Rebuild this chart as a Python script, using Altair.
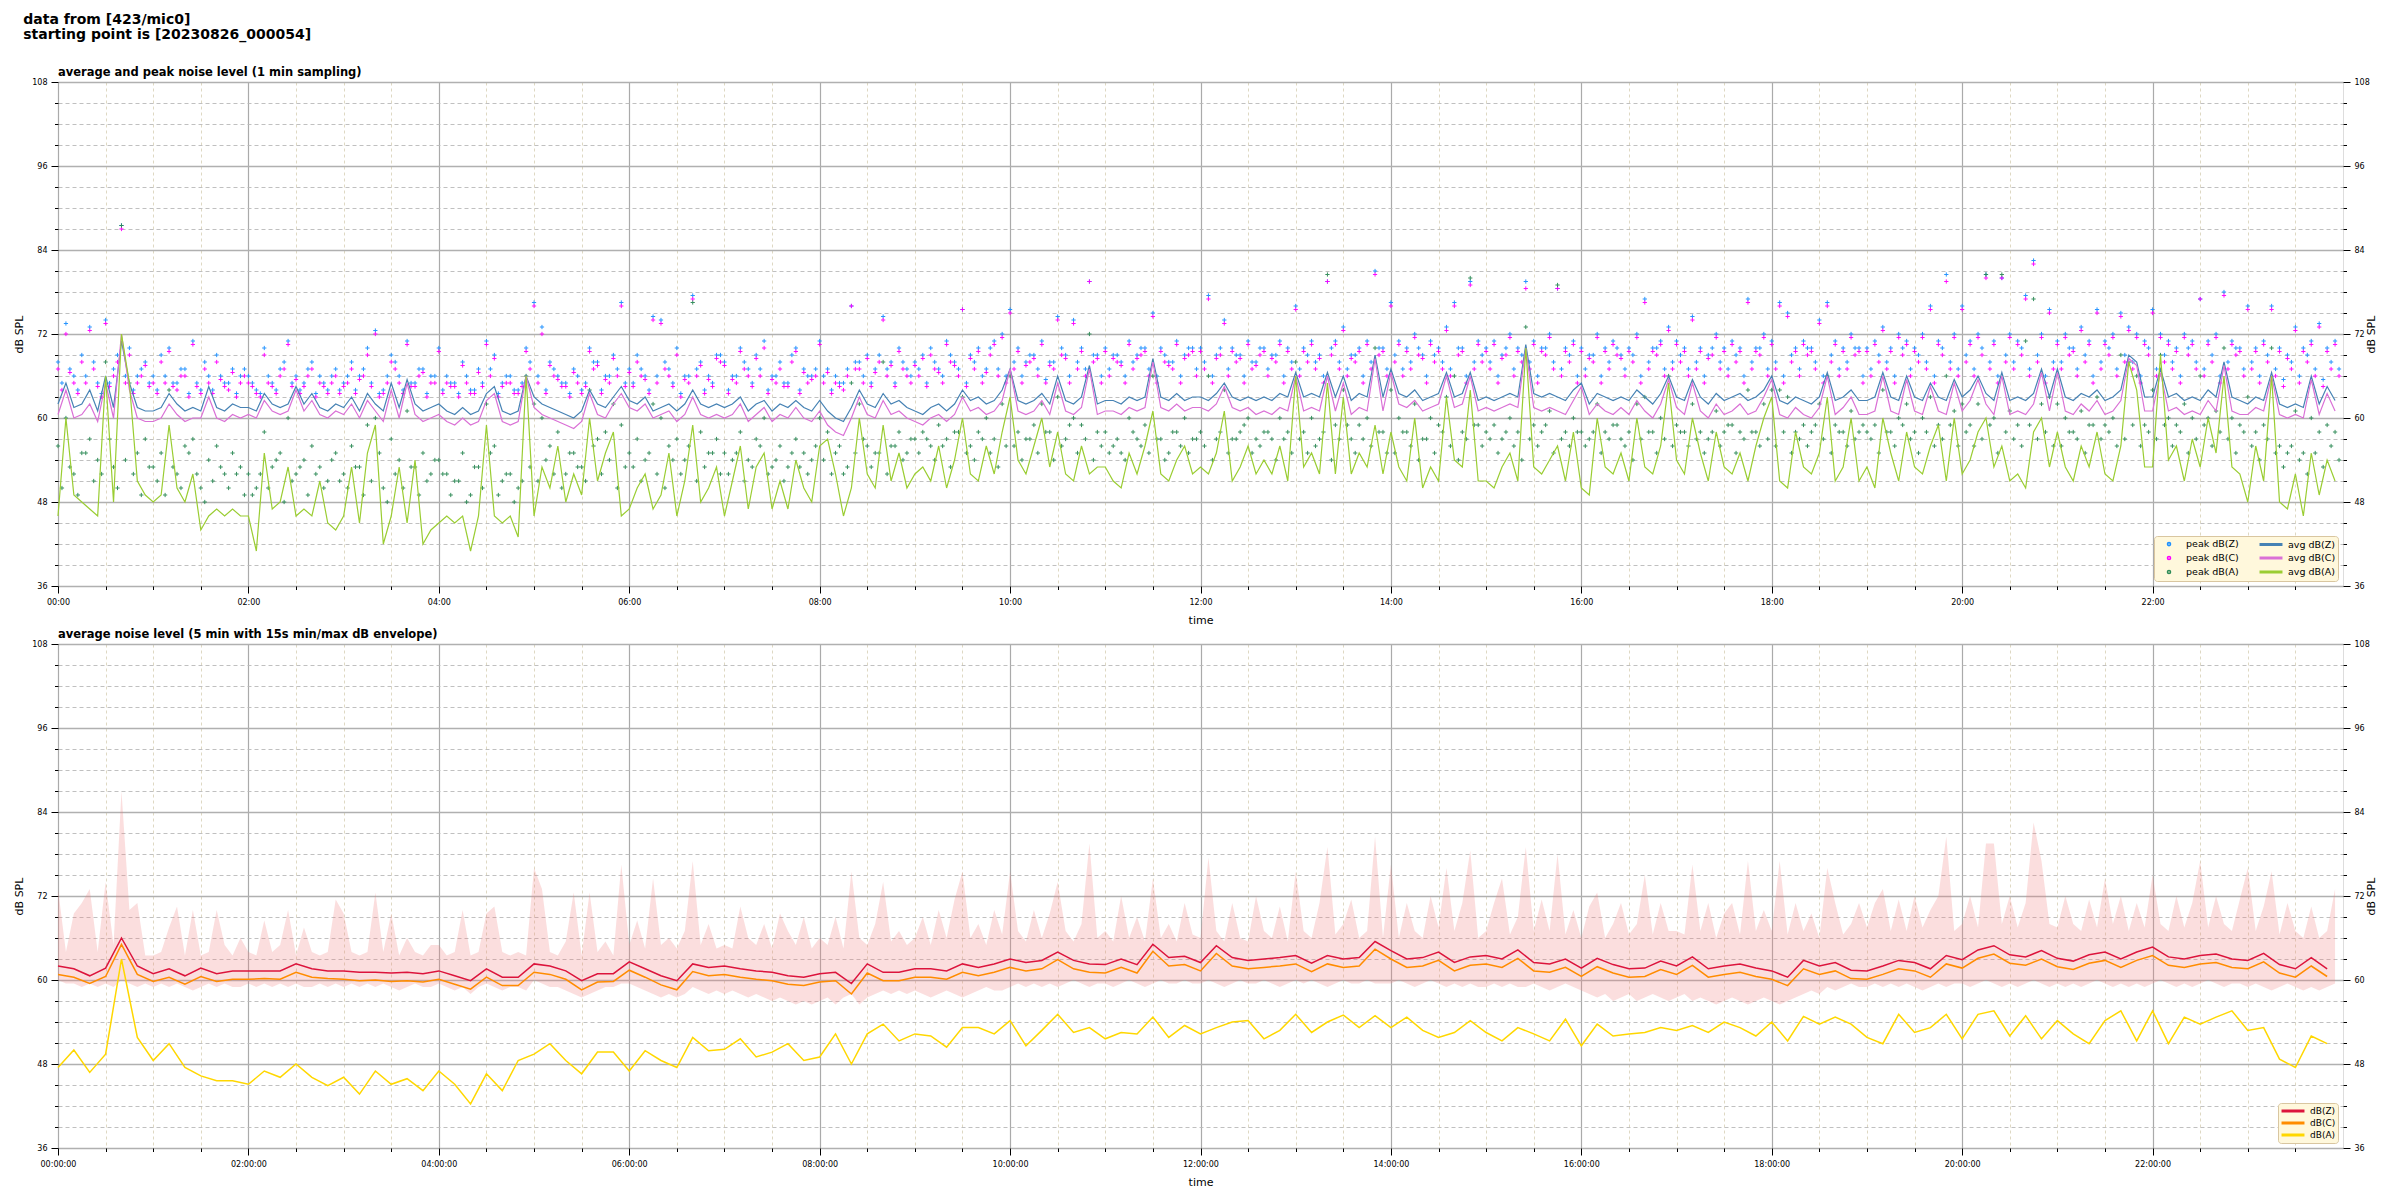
import altair as alt
import pandas as pd

FONT = "DejaVu Sans"

# ---------------- top panel: 5-minute samples (00:00 .. 23:55) ----------------
AVG_Z = [
    62, 65, 61.5, 62, 64, 61, 66, 61.5, 71, 65, 61.5, 61,
    61, 61.5, 63.5, 62, 61, 61.5, 61, 64.5, 61.5, 61, 62, 61.5,
    61.5, 61, 63.5, 62, 61.5, 62, 64.5, 62, 63.5, 61.5, 61, 62,
    61.5, 63, 61, 63.5, 62, 61, 65, 61.5, 65.5, 62, 61, 61.5,
    62, 61, 60.5, 61.5, 60.5, 61, 63.5, 64.5, 61, 60.5, 61, 66,
    63, 62, 61.5, 61, 60.5, 60, 61, 64, 62, 61.5, 63, 64.5,
    62.5, 62, 63, 61, 61.5, 62, 61, 62, 64, 62, 61.5, 62,
    61.5, 62, 63, 61, 62, 62.5, 61, 62, 61.5, 62.5, 61.5, 61,
    62.5, 61, 60, 59.5, 61.5, 64, 62, 61.5, 63.5, 62, 62.5, 61.5,
    61, 60.5, 61.5, 62, 61, 62, 64, 62.5, 63, 62, 62.5, 64,
    67, 62.5, 62, 62.5, 63.5, 62, 66, 62.5, 62, 63, 67.5, 62,
    62.5, 62.5, 62, 63, 62.5, 63, 68.5, 63, 62.5, 63.5, 62.5, 63,
    63, 62.5, 63.5, 65, 63, 62.5, 63, 62.5, 63, 62.5, 63.5, 63,
    66.5, 63, 63.5, 63, 66.5, 63, 66, 62.5, 63.5, 63, 69, 63,
    67, 63.5, 63, 64, 62.5, 63, 63.5, 66.5, 63, 63.5, 66.5, 62.5,
    63, 62.5, 63, 63.5, 63, 70.5, 63.5, 63, 63.5, 63, 62.5, 64,
    65, 62, 63.5, 63, 62.5, 63, 62.5, 64, 63, 62, 63.5, 66,
    63, 62.5, 65.5, 63, 62, 63.5, 62.5, 63, 63.5, 62.5, 63, 64,
    66, 62.5, 62, 63, 62.5, 62, 63, 66.5, 62.5, 63, 64, 62.5,
    62.5, 63, 66.5, 63, 62.5, 66, 63, 62.5, 65, 63, 62.5, 65.5,
    63, 64, 66, 63.5, 62.5, 66.5, 62.5, 63, 62.5, 63.5, 67, 63,
    67, 63, 62.5, 63.5, 63, 64, 62.5, 63, 64, 69, 68, 63,
    63, 67, 63, 63.5, 62.5, 63, 62.5, 64, 63, 68, 63, 62.5,
    62, 63, 62.5, 66.5, 62, 61.5, 62, 61.5, 66, 62, 64.5, 62.5,
]
AVG_C = [
    60.5, 64, 60, 60.5, 62, 59.5, 65, 60, 72, 64, 60, 59.5,
    59.5, 60, 62, 60.5, 59.5, 60, 60, 63, 60, 59.5, 60.5, 60,
    60.5, 60, 62.5, 61, 60.5, 61, 64, 61, 62.5, 60.5, 60, 61,
    60.5, 62, 60, 62.5, 61, 59.5, 64, 60, 65, 60.5, 59.5, 60,
    60.5, 59.5, 59, 60, 59, 59.5, 62.5, 63.5, 59.5, 59, 59.5, 66,
    61.5, 60.5, 60, 59.5, 59, 58.5, 59.5, 63.5, 60.5, 60, 62, 63.5,
    61.5, 61, 62, 60, 60.5, 61, 59.5, 60.5, 63, 60.5, 60, 60.5,
    60, 60.5, 62, 59.5, 60.5, 61.5, 59.5, 60.5, 60, 61.5, 60, 59.5,
    61, 59, 58, 57.5, 60, 63, 60.5, 60, 62.5, 60.5, 61, 60,
    59.5, 59, 60, 60.5, 59.5, 60.5, 63, 61, 61.5, 60.5, 61, 62.5,
    67, 61, 60.5, 61, 62.5, 60.5, 65, 61, 60.5, 61.5, 67, 60.5,
    61, 61, 60.5, 61.5, 61, 61.5, 68, 61.5, 61, 62, 61, 61.5,
    61.5, 61, 62, 64.5, 61.5, 61, 61.5, 60.5, 61, 60.5, 61.5, 61,
    66, 61, 61.5, 61, 66, 61, 65, 60.5, 61.5, 61, 68.5, 61,
    66.5, 62, 61.5, 62.5, 61, 61.5, 62, 66, 61.5, 62, 66, 61,
    61.5, 61, 61.5, 62, 61.5, 70, 61.5, 61, 61.5, 61, 60.5, 62.5,
    64.5, 60.5, 62, 61, 60.5, 61.5, 60.5, 62.5, 61, 60, 62, 65.5,
    61.5, 60.5, 65, 61, 60, 62, 60.5, 61, 62, 60.5, 61, 63,
    65.5, 60.5, 60, 61.5, 60.5, 60, 61.5, 66, 60.5, 61.5, 63, 60.5,
    60.5, 61, 66, 61, 60.5, 65.5, 61, 60.5, 64.5, 61, 60.5, 65,
    61, 62.5, 65.5, 62, 60.5, 66, 60.5, 61, 60.5, 62, 66.5, 61,
    66.5, 61, 60.5, 62, 61, 62.5, 60.5, 61, 62.5, 68.5, 67.5, 61,
    61, 66.5, 61, 61.5, 60.5, 61, 60.5, 62.5, 61, 67.5, 61, 60.5,
    60.5, 61.5, 61, 66, 60.5, 60, 60.5, 60, 65.5, 60.5, 63.5, 61,
]
AVG_A = [
    46, 60, 49, 48, 47, 46, 66, 48, 72, 65, 51, 49,
    48, 49, 59, 50, 48, 52, 44, 46, 47, 46, 47, 46,
    46, 41, 55, 47, 48, 53, 46, 47, 46, 51, 45, 44,
    46, 53, 45, 55, 59, 42, 46, 53, 45, 54, 42, 44,
    45, 46, 45, 46, 41, 46, 59, 46, 45, 46, 43, 66,
    46, 53, 50, 56, 48, 52, 49, 60, 51, 55, 58, 46,
    47, 50, 52, 47, 49, 55, 46, 51, 59, 48, 50, 53,
    46, 51, 56, 47, 53, 55, 47, 51, 47, 54, 50, 48,
    56, 57, 52, 46, 50, 60, 52, 50, 59, 51, 55, 50,
    52, 53, 51, 56, 50, 54, 60, 52, 51, 56, 52, 58,
    63, 54, 52, 56, 60, 53, 58, 52, 51, 56, 52, 53,
    53, 51, 50, 55, 52, 56, 61, 52, 51, 54, 56, 52,
    53, 52, 55, 61, 51, 53, 56, 52, 54, 52, 56, 51,
    66, 53, 55, 52, 65, 52, 63, 52, 55, 53, 59, 52,
    58, 53, 51, 60, 50, 53, 51, 63, 54, 53, 64, 51,
    51, 50, 53, 55, 51, 70, 53, 52, 54, 56, 51, 58,
    50, 49, 60, 53, 52, 55, 51, 60, 53, 52, 56, 65,
    54, 52, 60, 55, 51, 58, 53, 52, 55, 51, 56, 60,
    63, 51, 50, 58, 53, 52, 55, 63, 51, 53, 60, 51,
    53, 50, 60, 55, 51, 58, 53, 52, 56, 59, 51, 60,
    52, 54, 58, 60, 53, 56, 51, 52, 50, 58, 60, 53,
    58, 53, 51, 56, 53, 58, 52, 51, 56, 68, 64, 53,
    53, 69, 54, 56, 51, 57, 53, 60, 55, 66, 53, 52,
    48, 56, 51, 66, 48, 47, 52, 46, 55, 49, 54, 51,
]
# 1-minute peak levels read at each 5-minute mark (00:00 .. 23:55)
PEAK_Z = [
    68, 73.5, 66, 69, 73, 65, 74, 67, 87.5, 70, 66, 68,
    66, 69, 70, 65, 67, 71, 64, 66, 69, 65, 67, 66,
    66, 64, 70, 65, 67, 71, 66, 65, 68, 66, 64, 67,
    65, 68, 66, 70, 72.5, 64, 69, 66, 71, 65, 67, 66,
    70, 66, 65, 68, 64, 67, 71, 69, 65, 66, 64, 70,
    76.5, 73, 68, 66, 65, 67, 64, 70, 68, 66, 69, 76.5,
    67, 69, 66, 74.5, 74, 67, 70, 66, 77.5, 68, 66, 69,
    68, 66, 70, 67, 69, 71, 66, 68, 65, 70, 67, 66,
    71, 67, 66, 65, 76, 68, 69, 67, 74.5, 68, 70, 67,
    68, 69, 70, 67, 71, 68, 75.5, 69, 70, 67, 71, 72,
    75.5, 70, 68, 69, 71, 68, 74.5, 69, 74, 70, 79.5, 69,
    70, 69, 68, 71, 69, 70, 75, 70, 68, 71, 69, 70,
    70, 77.5, 69, 74, 70, 69, 71, 68, 70, 69, 71, 70,
    76, 70, 71, 69, 79.5, 71, 73, 69, 70, 71, 81, 70,
    76.5, 71, 70, 72, 69, 71, 70, 73, 76.5, 70, 79.5, 71,
    70, 71, 69, 72, 70, 79.5, 71, 70, 72, 78.5, 70, 71,
    70, 69, 72, 70, 71, 69, 70, 72, 77, 70, 71, 73,
    71, 70, 74.5, 70, 69, 72, 70, 71, 70, 77, 70, 72,
    71, 76.5, 75, 70, 71, 70, 74, 76.5, 71, 70, 72, 70,
    70, 71, 73, 70, 72, 71, 70, 72, 76, 71, 80.5, 72,
    76, 71, 72, 80.5, 71, 80, 72, 71, 77.5, 82.5, 72, 75.5,
    71, 72, 70, 73, 71, 75.5, 71, 72, 75, 73, 72, 71,
    75.5, 72, 71, 70, 72, 71, 77, 71, 72, 78, 71, 70,
    76, 70, 71, 76, 70, 69, 73, 70, 71, 73.5, 70, 71,
]
PEAK_C = [
    67, 72, 65, 68, 72.5, 64.5, 73.5, 66, 87, 69, 65, 67.5,
    65, 68, 69.5, 64, 66, 70.5, 63.5, 65, 68, 64.5, 66.5, 65,
    65, 63.5, 69, 64.5, 66, 70.5, 65.5, 64.5, 67, 65, 63.5, 66,
    64.5, 67, 65.5, 69, 72, 63.5, 68, 65, 70.5, 64.5, 66.5, 65,
    69.5, 65, 64.5, 67.5, 63.5, 66.5, 70.5, 68.5, 64.5, 65, 63.5, 69.5,
    76, 72, 67.5, 65.5, 64.5, 66.5, 63.5, 69.5, 67.5, 65.5, 68.5, 76,
    66.5, 68, 65.5, 74, 73.5, 66, 69, 65.5, 77, 67.5, 65.5, 68.5,
    67.5, 65.5, 69.5, 66, 68.5, 70, 65.5, 67, 64.5, 69.5, 66.5, 65.5,
    70.5, 66.5, 65, 64, 76, 67, 68.5, 66.5, 74, 67.5, 69.5, 66,
    67.5, 68.5, 69, 66.5, 70.5, 67.5, 75.5, 68.5, 69.5, 66.5, 70.5, 71.5,
    75, 69.5, 67.5, 68.5, 70.5, 67.5, 74, 68.5, 73.5, 69.5, 79.5, 68.5,
    69.5, 68.5, 67.5, 70.5, 68.5, 69.5, 74.5, 69.5, 67.5, 70.5, 68.5, 69.5,
    69.5, 77, 68.5, 73.5, 69.5, 68.5, 70.5, 67.5, 69.5, 68.5, 70.5, 69.5,
    75.5, 69.5, 70.5, 68.5, 79.5, 70.5, 72.5, 68.5, 69.5, 70.5, 80.5, 69.5,
    76, 70.5, 69.5, 71.5, 68.5, 70.5, 69.5, 72.5, 76, 69.5, 79, 70.5,
    69.5, 70.5, 68.5, 71.5, 69.5, 78.5, 70.5, 69.5, 71.5, 78.5, 69.5, 70.5,
    69.5, 68.5, 71.5, 69.5, 70.5, 68.5, 69.5, 71.5, 76.5, 69.5, 70.5, 72.5,
    70.5, 69.5, 74, 69.5, 68.5, 71.5, 69.5, 70.5, 69.5, 76.5, 69.5, 71.5,
    70.5, 76, 74.5, 69.5, 70.5, 69.5, 73.5, 76, 70.5, 69.5, 71.5, 69.5,
    69.5, 70.5, 72.5, 69.5, 71.5, 70.5, 69.5, 71.5, 75.5, 70.5, 79.5, 71.5,
    75.5, 70.5, 71.5, 80, 70.5, 80, 71.5, 70.5, 77, 82, 71.5, 75,
    70.5, 71.5, 69.5, 72.5, 70.5, 75, 70.5, 71.5, 74.5, 72.5, 71.5, 70.5,
    75, 71.5, 70.5, 69.5, 71.5, 70.5, 77, 70.5, 71.5, 77.5, 70.5, 69.5,
    75.5, 69.5, 70.5, 75.5, 69.5, 68.5, 72.5, 69.5, 70.5, 73, 69.5, 70.5,
]
PEAK_A = [
    56, 60, 52, 55, 57, 54, 68, 53, 87.5, 65, 55, 57,
    53, 55, 64, 52, 56, 57, 50, 54, 56, 52, 55, 53,
    52, 50, 58, 53, 55, 60, 52, 54, 56, 53, 51, 55,
    52, 56, 53, 59, 60, 50, 57, 54, 61, 53, 55, 52,
    54, 52, 51, 55, 49, 53, 62, 56, 51, 52, 50, 66,
    62, 60, 56, 58, 52, 55, 53, 64, 57, 58, 62, 59,
    55, 57, 54, 62, 60, 56, 57, 54, 76.5, 58, 55, 57,
    55, 54, 58, 54, 57, 60, 53, 56, 53, 57, 55, 54,
    60, 58, 55, 52, 65, 62, 56, 55, 68, 56, 58, 55,
    57, 58, 56, 59, 57, 58, 63, 56, 58, 60, 57, 62,
    66, 58, 57, 59, 62, 58, 63, 57, 60, 59, 72, 58,
    58, 56, 55, 60, 57, 59, 66, 57, 55, 58, 60, 57,
    58, 66, 57, 64, 57, 58, 60, 57, 58, 57, 60, 58,
    68, 58, 60, 57, 80.5, 59, 64, 57, 59, 60, 70, 58,
    64, 60, 58, 62, 57, 60, 59, 63, 66, 58, 80, 59,
    58, 59, 57, 60, 58, 73, 59, 58, 61, 79, 58, 60,
    58, 57, 62, 58, 59, 57, 58, 62, 63, 58, 60, 66,
    59, 58, 62, 58, 57, 61, 58, 59, 58, 64, 58, 62,
    64, 64, 63, 58, 59, 58, 62, 66, 59, 58, 61, 58,
    58, 59, 64, 58, 60, 62, 58, 60, 63, 59, 66, 61,
    62, 59, 62, 80.5, 60, 80.5, 61, 59, 71, 77, 62, 63,
    62, 60, 58, 61, 59, 63, 59, 60, 69, 68, 66, 59,
    64, 69, 60, 59, 62, 60, 66, 60, 61, 70, 60, 59,
    63, 58, 59, 70, 56, 55, 61, 55, 60, 58, 59, 58,
]
# peak levels read midway between the 5-minute marks (00:02:30 .. 23:57:30)
PEAK2_Z = [
    65, 67, 64, 66, 68, 63.5, 65, 69, 66, 64, 67, 65,
    64, 66, 65, 67, 63.5, 65, 68, 64, 66, 65, 63.5, 67,
    65, 63.5, 66, 64, 68, 65, 64, 67, 63.5, 65, 66, 64,
    66, 64, 67, 65, 63.5, 66, 68, 64, 65, 67, 63.5, 66,
    64, 65, 63.5, 66, 64, 65, 67, 63.5, 66, 64, 65, 68,
    66, 64, 67, 65, 63.5, 66, 65, 68, 64, 66, 67, 65,
    65, 67, 64, 66, 68, 65, 63.5, 66, 67, 64, 65, 69,
    64, 66, 68, 65, 67, 64, 66, 65, 69, 64, 66, 67,
    66, 64, 65, 67, 68, 66, 65, 69, 67, 65, 68, 66,
    67, 65, 68, 66, 69, 67, 65, 68, 66, 70, 67, 66,
    68, 66, 69, 67, 65.5, 68, 70, 66, 68, 67, 69, 66,
    67, 69, 66, 68, 70, 67, 66, 69, 68, 66, 70, 67,
    68, 66, 70, 67, 69, 66, 68, 70, 67, 69, 66, 68,
    67, 69, 68, 66, 70, 68, 67, 69, 66, 68, 70, 67,
    69, 67, 68, 70, 66, 69, 68, 67, 70, 66, 68, 69,
    68, 66, 70, 67, 69, 68, 66, 70, 68, 67, 69, 66,
    67, 69, 66, 68, 70, 67, 69, 66, 68, 70, 67, 68,
    69, 67, 68, 66, 70, 68, 67, 69, 66, 68, 70, 67,
    68, 66, 69, 67, 70, 68, 66, 69, 67, 68, 70, 66,
    67, 69, 68, 66, 70, 67, 69, 68, 66, 70, 68, 67,
    69, 67, 70, 68, 66, 69, 68, 70, 67, 69, 66, 68,
    68, 70, 67, 69, 66, 68, 70, 67, 69, 68, 66, 70,
    67, 69, 68, 66, 70, 68, 67, 69, 66, 68, 70, 67,
    68, 66, 69, 67, 65.5, 68, 66, 69, 67, 65.5, 68, 67,
]
PEAK2_C = [
    64, 66.5, 63.5, 65, 67, 63, 64.5, 68, 65, 63.5, 66, 64.5,
    63.5, 65, 64.5, 66, 63, 64.5, 67, 63.5, 65.5, 64, 63, 66,
    64.5, 63, 65, 63.5, 67, 64.5, 63.5, 66, 63, 64.5, 65, 63.5,
    65, 63.5, 66, 64.5, 63, 65, 67, 63.5, 64.5, 66, 63, 65,
    63.5, 64.5, 63, 65, 63.5, 64.5, 66, 63, 65, 63.5, 64.5, 67,
    65, 63.5, 66, 64.5, 63, 65, 64.5, 67, 63.5, 65, 66, 64.5,
    64.5, 66, 63.5, 65, 67, 64.5, 63, 65, 66, 63.5, 64.5, 68,
    63.5, 65, 67, 64.5, 66, 63.5, 65, 64.5, 68, 63.5, 65, 66,
    65, 63.5, 64.5, 66, 67, 65, 64.5, 68, 66, 64.5, 67, 65,
    66, 64.5, 67, 65, 68, 66, 64.5, 67, 65, 69, 66, 65,
    67, 65, 68, 66, 65, 67, 69, 65, 67, 66, 68, 65,
    66, 68, 65, 67, 69, 66, 65, 68, 67, 65, 69, 66,
    67, 65, 69, 66, 68, 65, 67, 69, 66, 68, 65, 67,
    66, 68, 67, 65, 69, 67, 66, 68, 65, 67, 69, 66,
    68, 66, 67, 69, 65, 68, 67, 66, 69, 65, 67, 68,
    67, 65, 69, 66, 68, 67, 65, 69, 67, 66, 68, 65,
    66, 68, 65, 67, 69, 66, 68, 65, 67, 69, 66, 67,
    68, 66, 67, 65, 69, 67, 66, 68, 65, 67, 69, 66,
    67, 65, 68, 66, 69, 67, 65, 68, 66, 67, 69, 65,
    66, 68, 67, 65, 69, 66, 68, 67, 65, 69, 67, 66,
    68, 66, 69, 67, 65, 68, 67, 69, 66, 68, 65, 67,
    67, 69, 66, 68, 65, 67, 69, 66, 68, 67, 65, 69,
    66, 68, 67, 65, 69, 67, 66, 68, 65, 67, 69, 66,
    67, 65, 68, 66, 64.5, 67, 65, 68, 66, 64.5, 67, 66,
]
PEAK2_A = [
    50, 53, 49, 55, 51, 52, 57, 50, 54, 52, 49, 53,
    51, 49, 53, 50, 55, 52, 48, 51, 53, 50, 52, 49,
    49, 52, 50, 54, 48, 51, 53, 49, 52, 50, 54, 51,
    50, 53, 49, 51, 55, 48, 52, 50, 53, 49, 51, 54,
    52, 49, 51, 48, 53, 50, 55, 49, 52, 48, 51, 53,
    51, 54, 52, 50, 55, 53, 51, 56, 52, 54, 50, 53,
    53, 51, 55, 52, 50, 54, 52, 56, 51, 53, 55, 52,
    52, 55, 51, 53, 56, 52, 54, 51, 55, 53, 52, 56,
    54, 52, 56, 53, 55, 57, 53, 55, 52, 56, 54, 57,
    55, 57, 54, 56, 53, 58, 55, 54, 57, 55, 53, 56,
    56, 54, 57, 55, 58, 54, 56, 59, 55, 57, 54, 56,
    55, 57, 54, 58, 56, 55, 57, 54, 58, 56, 55, 57,
    56, 54, 58, 55, 57, 59, 55, 56, 58, 54, 57, 55,
    57, 55, 56, 58, 54, 57, 59, 55, 57, 56, 58, 55,
    55, 58, 56, 54, 57, 55, 58, 56, 54, 57, 59, 56,
    57, 55, 58, 56, 54, 57, 56, 59, 55, 57, 56, 58,
    56, 58, 55, 57, 59, 56, 54, 57, 58, 55, 57, 56,
    58, 56, 57, 55, 58, 56, 59, 55, 57, 58, 56, 57,
    56, 58, 55, 57, 56, 59, 57, 55, 58, 56, 57, 59,
    57, 55, 58, 56, 59, 57, 55, 58, 56, 57, 59, 56,
    58, 56, 57, 59, 55, 58, 57, 56, 59, 57, 58, 56,
    56, 58, 57, 55, 59, 57, 58, 56, 57, 59, 56, 58,
    57, 59, 56, 58, 55, 57, 59, 56, 58, 57, 55, 58,
    56, 54, 57, 55, 53, 56, 54, 52, 55, 53, 56, 54,
]

# ---------------- bottom panel ----------------
# 5-minute averages, sampled every 10 minutes (00:00 .. 23:50)
LVL_Z = [
    62.0, 61.6, 60.6, 61.7, 66.0, 62.0,
    60.9, 61.6, 60.6, 61.7, 60.9, 61.3,
    61.3, 61.3, 61.3, 62.3, 61.6, 61.3,
    61.3, 61.1, 61.1, 61.0, 61.1, 60.9,
    61.3, 60.6, 59.9, 61.6, 60.4, 60.4,
    62.3, 62.0, 61.3, 59.9, 60.9, 60.9,
    62.6, 61.6, 60.6, 59.9, 62.3, 61.8,
    62.0, 61.6, 61.3, 61.1, 60.6, 60.4,
    60.9, 61.1, 59.5, 62.3, 61.1, 61.1,
    61.6, 61.6, 61.3, 62.3, 61.8, 62.3,
    63.0, 62.5, 62.8, 64.0, 62.8, 62.3,
    62.2, 63.0, 62.2, 65.1, 63.2, 63.4,
    62.5, 64.9, 63.2, 62.8, 63.0, 63.2,
    63.5, 62.4, 63.5, 63.0, 63.2, 65.5,
    64.2, 63.0, 63.2, 64.0, 62.5, 63.3,
    63.5, 63.0, 64.3, 62.5, 62.3, 63.0,
    61.7, 63.1, 62.2, 61.6, 61.7, 62.7,
    62.0, 63.3, 61.6, 62.0, 62.3, 61.7,
    61.3, 60.4, 62.8, 62.0, 62.5, 61.4,
    61.3, 62.0, 62.8, 62.5, 61.6, 63.5,
    62.9, 64.3, 64.9, 63.6, 63.3, 64.2,
    63.1, 62.7, 63.6, 64.0, 63.0, 64.0,
    64.7, 63.3, 63.0, 63.5, 63.7, 63.0,
    62.8, 63.8, 62.2, 61.6, 63.2, 61.6,
]
LVL_C = [
    60.8, 60.4, 59.5, 60.5, 65.1, 60.8,
    59.8, 60.4, 59.4, 60.5, 59.8, 60.1,
    60.1, 60.2, 60.1, 61.1, 60.4, 60.2,
    60.1, 59.9, 60.0, 59.8, 59.9, 59.7,
    60.1, 59.4, 58.7, 60.4, 59.2, 59.2,
    61.1, 60.8, 60.1, 58.6, 59.7, 59.8,
    61.4, 60.4, 59.3, 58.6, 61.2, 60.6,
    60.8, 60.4, 60.1, 59.9, 59.4, 59.2,
    59.7, 59.9, 58.0, 61.0, 59.9, 59.9,
    60.4, 60.4, 60.1, 61.1, 60.6, 61.1,
    61.8, 61.3, 61.6, 62.9, 61.6, 61.1,
    61.0, 61.8, 61.0, 64.1, 62.0, 62.2,
    61.3, 63.8, 62.0, 61.6, 61.8, 62.0,
    62.3, 61.2, 62.3, 61.8, 62.0, 64.4,
    63.0, 61.8, 62.0, 62.8, 61.3, 62.1,
    62.3, 61.8, 63.1, 61.3, 61.1, 61.8,
    60.5, 61.9, 61.0, 60.4, 60.5, 61.5,
    60.8, 62.1, 60.4, 60.8, 61.1, 60.5,
    60.1, 59.2, 61.6, 60.8, 61.3, 60.2,
    60.1, 60.8, 61.6, 61.3, 60.4, 62.3,
    61.7, 63.1, 63.7, 62.4, 62.1, 63.0,
    61.9, 61.5, 62.4, 62.8, 61.8, 62.8,
    63.5, 62.1, 61.8, 62.3, 62.5, 61.8,
    61.6, 62.6, 61.0, 60.4, 62.0, 60.5,
]
LVL_A = [
    47.5, 50.0, 46.8, 49.4, 63.0, 51.8,
    48.5, 50.9, 47.5, 46.3, 45.6, 45.6,
    45.1, 47.0, 46.1, 48.0, 46.1, 44.9,
    46.1, 43.7, 47.0, 45.1, 45.9, 44.2,
    47.0, 45.1, 42.3, 46.6, 44.2, 48.5,
    49.4, 50.9, 48.5, 46.6, 49.7, 49.7,
    47.0, 49.9, 48.5, 47.5, 51.8, 49.9,
    50.1, 51.6, 49.0, 49.7, 50.9, 48.5,
    49.0, 52.3, 48.0, 52.3, 53.7, 51.3,
    52.3, 52.0, 50.4, 53.2, 53.2, 52.3,
    54.2, 50.6, 52.8, 55.1, 52.5, 53.2,
    51.6, 52.5, 52.3, 54.7, 51.8, 53.5,
    52.3, 53.2, 54.0, 54.2, 51.6, 52.8,
    55.1, 52.5, 54.0, 55.0, 53.2, 54.9,
    53.2, 54.7, 52.8, 51.8, 52.5, 54.2,
    52.5, 51.3, 53.2, 52.3, 51.3, 54.4,
    50.6, 53.7, 52.0, 52.3, 52.5, 53.2,
    52.8, 53.5, 52.5, 54.0, 53.2, 52.0,
    54.0, 51.3, 54.8, 53.7, 54.7, 53.7,
    51.8, 50.9, 55.1, 52.5, 53.2, 55.1,
    51.6, 55.1, 55.6, 52.0, 54.9, 51.6,
    54.2, 52.3, 50.9, 54.2, 55.6, 51.3,
    55.6, 50.9, 54.7, 53.7, 54.7, 55.6,
    52.8, 53.2, 48.7, 47.5, 52.0, 50.9,
]
# 15 s min / max envelope, every 5 minutes (00:00 .. 23:55)
ENV_MAX = [
    73, 64, 69.5, 71, 73, 64, 74, 65, 87, 70, 71, 63.5,
    63.5, 64, 67.5, 70.5, 63.5, 70, 63.5, 64, 70, 65, 63.5, 66,
    64, 63.5, 68.5, 64, 65, 70, 63.5, 67.5, 64, 63.5, 64, 71.5,
    69.5, 64, 63.5, 64, 72.5, 64, 69.5, 63.5, 66, 64, 63.5, 65,
    65, 63.5, 64, 70, 63.5, 64, 69.5, 70.5, 64, 63.5, 64, 63.5,
    76, 73, 64, 63.5, 65.5, 72.5, 63.5, 72.5, 64, 65.5, 63.5, 76.5,
    65, 68.5, 64.5, 74.5, 65, 66, 64.5, 67, 77, 65, 68, 64.5,
    65, 64.5, 70.5, 66, 65, 68, 64.5, 69.5, 67, 65, 69, 64.5,
    66, 65, 69, 64.5, 75.5, 66, 65, 68, 74, 65.5, 67, 65,
    66, 69, 65, 70, 66, 71.5, 75.5, 66, 68, 65, 70, 66.5,
    75.5, 67, 65.5, 70, 66, 69.5, 74, 67, 65.5, 68, 79.5, 66,
    67, 65.5, 72, 66, 69, 65.5, 74.5, 66, 68, 65.5, 71, 66.5,
    66, 77.5, 67, 65.5, 71, 66, 65.5, 72, 67, 66, 70.5, 65.5,
    75.5, 67, 66, 71, 79, 66.5, 68, 71.5, 66, 67, 80.5, 66,
    76.5, 66, 71, 67, 66, 72, 67.5, 76, 67, 71, 78.5, 66,
    67, 71, 74.5, 66.5, 69, 79, 67, 71.5, 67, 78, 66.5, 70,
    66, 70.5, 72.5, 66, 68, 71, 66.5, 68, 75, 66.5, 71, 67,
    67, 66.5, 76.5, 67, 71, 66, 69.5, 71, 66.5, 77, 67, 70,
    67, 77, 66.5, 71, 67, 69.5, 66, 76, 71, 66.5, 68, 71,
    67.5, 71, 73, 67, 71.5, 67, 72, 67.5, 70, 72, 80.5, 67,
    68, 72, 67.5, 79.5, 79.5, 68, 72, 67.5, 71, 82.5, 77, 68,
    67.5, 72, 68, 67, 71.5, 67.5, 74.5, 68, 72, 67, 71, 67.5,
    75, 68, 67, 72, 67.5, 71, 77, 67.5, 72, 68, 67, 71.5,
    76, 67, 70.5, 75.5, 66.5, 71, 67, 66, 70.5, 66, 67, 73,
]
ENV_MIN = [
    60, 59.5, 59.5, 59, 59.5, 59, 59.5, 59, 60, 59.5, 59, 59.5,
    59, 59.5, 59, 59.5, 59, 58.5, 59, 59.5, 59, 59.5, 59, 59,
    59.5, 59, 59.5, 59, 59.5, 59, 59.5, 59, 59, 59.5, 59, 59.5,
    59, 59.5, 59, 59.5, 59, 59.5, 59, 58.5, 59, 59.5, 59, 59,
    59.5, 59, 58.5, 59, 58, 59, 59.5, 59, 58.5, 59, 59, 58.5,
    60, 59.5, 59, 59, 58.5, 58, 57.5, 58, 58.5, 59, 59, 59.5,
    59.5, 59, 58.5, 58, 57.5, 58, 57.5, 58, 59, 58.5, 58, 58.5,
    58, 58.5, 58, 57.5, 58, 57.5, 57, 57.5, 57, 56.5, 57, 56.5,
    57, 57.5, 56.5, 57.5, 58, 56.5, 57.5, 58, 58.5, 58, 58.5, 58,
    58.5, 58, 57.5, 58, 58.5, 58, 57.5, 58, 58.5, 59, 58.5, 58.5,
    59, 59.5, 59, 59.5, 59, 59.5, 59, 59.5, 60, 59.5, 59, 59.5,
    59.5, 59, 59.5, 60, 59.5, 59, 59.5, 60, 59.5, 59.5, 60, 59.5,
    59.5, 60, 59.5, 59, 59.5, 60, 59.5, 59.5, 60, 59.5, 59, 59.5,
    60, 59.5, 60, 59.5, 59, 59.5, 60, 59.5, 59.5, 60, 59.5, 59.5,
    59.5, 60, 59.5, 59, 59.5, 60, 59.5, 59, 59.5, 59, 59.5, 59,
    59, 59.5, 59, 59.5, 59, 59, 59.5, 59, 58.5, 59, 59.5, 59,
    58.5, 58, 57.5, 58, 57, 57.5, 58, 57, 57.5, 58, 57.5, 57,
    57.5, 58, 57, 57.5, 57, 56.5, 57, 57.5, 57, 56.5, 57, 57.5,
    57, 56.5, 57, 57.5, 58, 58.5, 58, 59, 58.5, 59, 59.5, 59,
    59, 59.5, 59, 59.5, 59, 59.5, 59, 58.5, 59, 59.5, 59, 59.5,
    59.5, 59, 59.5, 60, 59.5, 59, 59.5, 59, 59.5, 60, 59.5, 59,
    59.5, 59, 59.5, 59, 59.5, 60, 59.5, 59, 59.5, 59, 59.5, 59,
    59.5, 60, 59.5, 59, 59.5, 59, 59.5, 60, 59.5, 59, 59.5, 59.5,
    59, 59.5, 59, 58.5, 59, 59.5, 59, 58.5, 59, 58.5, 59, 59.5,
]

# legend order (filled column by column: peaks, then averages)
TOP_SERIES = ["peak dB(Z)", "peak dB(C)", "peak dB(A)", "avg dB(Z)", "avg dB(C)", "avg dB(A)"]
TOP_COLORS = ["#1E90FF", "#FF00FF", "#2E8B57", "#4682B4", "#DA70D6", "#9ACD32"]
BOT_SERIES = ["dB(Z)", "dB(C)", "dB(A)"]
BOT_COLORS = ["#DC143C", "#FF8C00", "#FFD700"]

# ---------------- frames ----------------
def grid(start, n, step):
    return list(pd.date_range(start, periods=n, freq=step).strftime("%Y-%m-%dT%H:%M:%SZ"))


T5 = grid("2023-08-26 00:00:00", 288, "5min")
T5B = grid("2023-08-26 00:02:30", 288, "5min")
T10 = grid("2023-08-26 00:00:00", 144, "10min")


def long(times, values, name):
    return pd.DataFrame({"t": times, "value": values, "series": name})


top_avg = pd.concat([long(T5, AVG_Z, "avg dB(Z)"), long(T5, AVG_C, "avg dB(C)"), long(T5, AVG_A, "avg dB(A)")])
top_peak = pd.concat([
    long(T5, PEAK_Z, "peak dB(Z)"), long(T5B, PEAK2_Z, "peak dB(Z)"),
    long(T5, PEAK_C, "peak dB(C)"), long(T5B, PEAK2_C, "peak dB(C)"),
    long(T5, PEAK_A, "peak dB(A)"), long(T5B, PEAK2_A, "peak dB(A)"),
])
bot_lvl = pd.concat([long(T10, LVL_Z, "dB(Z)"), long(T10, LVL_C, "dB(C)"), long(T10, LVL_A, "dB(A)")])
bot_env = pd.DataFrame({"t": T5, "lo": ENV_MIN, "hi": ENV_MAX})


def dt(h, m=0, d=26):
    return alt.DateTime(year=2023, month=8, date=d, hours=h, minutes=m, utc=True)


X_DOMAIN = [dt(0), dt(0, 0, 27)]
X_MAJOR = [dt(h) for h in range(0, 24, 2)]
X_MINOR = [dt(h, m) for h in range(24) for m in (0, 30) if not (m == 0 and h % 2 == 0)]
Y_MAJOR = list(range(36, 109, 12))
Y_MINOR = [v for v in range(36, 109, 3) if v % 12]

XS = alt.Scale(type="utc", domain=X_DOMAIN, nice=False)
YS = alt.Scale(domain=[36, 108], nice=False, zero=False)

TXT = dict(labelFont=FONT, labelFontSize=8, labelColor="black", tickColor="black",
           titleFont=FONT, titleFontSize=11, titleFontWeight="normal", titleColor="black",
           domain=False)


def axis_layers(df, xfmt):
    base = alt.Chart(df).mark_line(strokeOpacity=0)
    minor = base.encode(
        x=alt.X("t:T", scale=XS, axis=alt.Axis(orient="bottom", values=X_MINOR, labels=False, tickSize=3.5,
                                               grid=True, gridColor="#d6ceb4", gridDash=[3, 3], gridWidth=0.8,
                                               title=None, **TXT)),
        y=alt.Y("value:Q", scale=YS, axis=alt.Axis(orient="left", values=Y_MINOR, labels=False, tickSize=3.5,
                                                   grid=True, gridColor="#b9b9b9", gridDash=[4, 3], gridWidth=0.9,
                                                   title=None, **TXT)),
    )
    major = base.encode(
        x=alt.X("t:T", scale=XS, axis=alt.Axis(orient="bottom", values=X_MAJOR,
                                               labelExpr=f"utcFormat(datum.value, '{xfmt}')",
                                               labelFlush=False, labelAlign="center", labelOverlap=False,
                                               tickSize=7, labelPadding=5, grid=True, gridColor="#aaaaaa",
                                               gridWidth=1.2, title="time", titlePadding=8, **TXT)),
        y=alt.Y("value:Q", scale=YS, axis=alt.Axis(orient="left", values=Y_MAJOR, tickSize=7, labelPadding=4,
                                                   labelFlush=False, grid=True, gridColor="#b0b0b0",
                                                   gridWidth=1.6, title="dB SPL", titleAngle=270, titlePadding=7,
                                                   **TXT)),
    )
    rminor = base.encode(
        x=alt.X("t:T", scale=XS, axis=None),
        y=alt.Y("value:Q", scale=YS, axis=alt.Axis(orient="right", values=Y_MINOR, labels=False, tickSize=3.5,
                                                   grid=False, title=None, **TXT)),
    )
    rmajor = base.encode(
        x=alt.X("t:T", scale=XS, axis=None),
        y=alt.Y("value:Q", scale=YS, axis=alt.Axis(orient="right", values=Y_MAJOR, tickSize=7, labelPadding=4,
                                                   labelFlush=False, grid=False, title="dB SPL", titleAngle=270,
                                                   titlePadding=7, **TXT)),
    )
    return [minor, major, rminor, rmajor]


DOT = "M0.18,0A0.18,0.18 0 1,1 -0.18,0A0.18,0.18 0 1,1 0.18,0Z"
BAR = "M-2.55,0L2.55,0"
LEG = dict(title=None, orient="bottom-right", offset=5, rowPadding=0,
           labelFont=FONT, labelColor="black", labelOffset=11, labelBaseline="middle",
           symbolSize=81, symbolStrokeWidth=3, symbolOpacity=1, symbolOffset=7,
           fillColor="#FFF8DC", strokeColor="#d9c6a0", padding=2, cornerRadius=3)

top_color = alt.Scale(domain=TOP_SERIES, range=TOP_COLORS)
top_legend = alt.Legend(
    columns=2, columnPadding=14, labelFontSize=9.5,
    symbolType={"expr": f"indexof(datum.value, 'peak') == 0 ? '{DOT}' : '{BAR}'"},
    **LEG,
)

PLUS = "M-1,0L1,0M0,-1L0,1"

peaks = alt.Chart(top_peak).mark_point(shape=PLUS, filled=False, size=18, strokeWidth=1, opacity=0.95).encode(
    x=alt.X("t:T", scale=XS, axis=None),
    y=alt.Y("value:Q", scale=YS, axis=None),
    color=alt.Color("series:N", scale=top_color, legend=top_legend),
)


def avg_line(name):
    return alt.Chart(top_avg).transform_filter(alt.datum.series == name).mark_line(strokeWidth=1.2).encode(
        x=alt.X("t:T", scale=XS, axis=None),
        y=alt.Y("value:Q", scale=YS, axis=None),
        color=alt.Color("series:N", scale=top_color, legend=None),
    )


top = alt.layer(
    *axis_layers(top_avg, "%H:%M"),
    peaks,
    avg_line("avg dB(Z)"),
    avg_line("avg dB(C)"),
    avg_line("avg dB(A)"),
).resolve_axis(x="independent", y="independent").properties(
    width=2285, height=504,
    title=alt.TitleParams("average and peak noise level (1 min sampling)", anchor="start", frame="group",
                          font=FONT, fontSize=11.5, fontWeight="bold", color="black", offset=0),
)

bot_color = alt.Scale(domain=BOT_SERIES, range=BOT_COLORS)
bot_legend = alt.Legend(labelFontSize=9, symbolType=BAR, **LEG)

envelope = alt.Chart(bot_env).mark_area(color="#F08080", opacity=0.26, interpolate="linear").encode(
    x=alt.X("t:T", scale=XS, axis=None),
    y=alt.Y("lo:Q", scale=YS, axis=None),
    y2="hi:Q",
)


def lvl_line(name, legend):
    return alt.Chart(bot_lvl).transform_filter(alt.datum.series == name).mark_line(strokeWidth=1.5).encode(
        x=alt.X("t:T", scale=XS, axis=None),
        y=alt.Y("value:Q", scale=YS, axis=None),
        color=alt.Color("series:N", scale=bot_color, legend=legend),
    )


bottom = alt.layer(
    *axis_layers(bot_lvl, "%H:%M:%S"),
    envelope,
    lvl_line("dB(Z)", bot_legend),
    lvl_line("dB(C)", None),
    lvl_line("dB(A)", None),
).resolve_axis(x="independent", y="independent").properties(
    width=2285, height=504,
    title=alt.TitleParams("average noise level (5 min with 15s min/max dB envelope)", anchor="start",
                          frame="group", font=FONT, fontSize=11.5, fontWeight="bold", color="black", offset=0),
)

chart = alt.vconcat(top, bottom, spacing=2).resolve_scale(color="independent").properties(
    title=alt.TitleParams(["data from [423/mic0]", "starting point is [20230826_000054]"], anchor="start",
                          font=FONT, fontSize=14, fontWeight="bold", color="black", lineHeight=15, dx=10,
                          offset=24),
).configure_view(fill="#FFF8DC", stroke="black", strokeWidth=1.2).configure(background="white")

chart.save("out.html", embed_options={"renderer": "svg", "actions": False})
